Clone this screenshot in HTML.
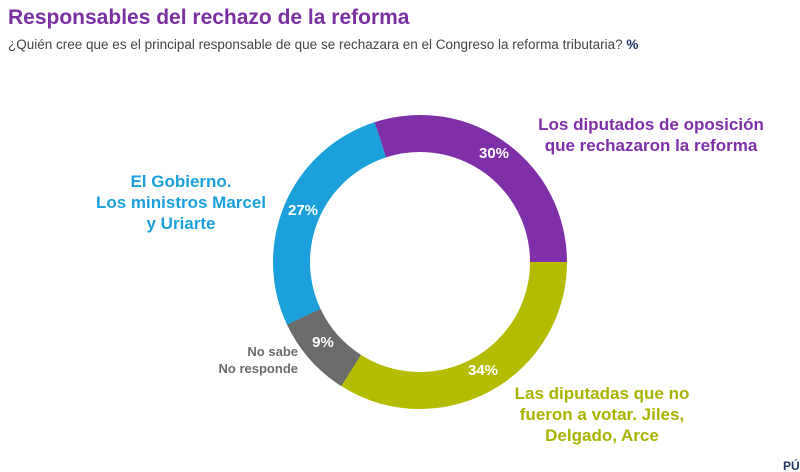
<!DOCTYPE html>
<html><head><meta charset="utf-8"><style>
body{margin:0;background:#fff;}
svg{display:block;font-family:"Liberation Sans",sans-serif;}
</style></head><body>
<svg width="800" height="472" viewBox="0 0 800 472">
<text x="8" y="24" font-size="21" font-weight="bold" fill="#7b2fa3">Responsables del rechazo de la reforma</text>
<text x="8" y="49" font-size="13.5" fill="#444">¿Quién cree que es el principal responsable de que se rechazara en el Congreso la reforma tributaria? <tspan font-weight="bold" fill="#1f3864">%</tspan></text>
<g fill="none" stroke-width="37">
<circle cx="420" cy="262" r="128.5" stroke="#7f2fa8" stroke-dasharray="242.2 1000" transform="rotate(-108 420 262)"/>
<circle cx="420" cy="262" r="128.5" stroke="#b4bc00" stroke-dasharray="274.5 1000" transform="rotate(0 420 262)"/>
<circle cx="420" cy="262" r="128.5" stroke="#6b6b6b" stroke-dasharray="72.7 1000" transform="rotate(122.4 420 262)"/>
<circle cx="420" cy="262" r="128.5" stroke="#1ba0dc" stroke-dasharray="218 1000" transform="rotate(154.8 420 262)"/>
</g>
<g stroke="#fff" stroke-width="2">
<line x1="420" y1="262" x2="375" y2="112" opacity="0"/>
</g>
<g font-size="15" font-weight="bold" fill="#fff" text-anchor="middle">
<text x="494" y="158">30%</text>
<text x="303" y="215">27%</text>
<text x="323" y="347">9%</text>
<text x="483" y="375">34%</text>
</g>
<g font-size="17" font-weight="bold" fill="#7f2fa8" text-anchor="middle">
<text x="651" y="130">Los diputados de oposición</text>
<text x="651" y="151">que rechazaron la reforma</text>
</g>
<g font-size="17" font-weight="bold" fill="#1ba0dc" text-anchor="middle">
<text x="181" y="187">El Gobierno.</text>
<text x="181" y="208">Los ministros Marcel</text>
<text x="181" y="229">y Uriarte</text>
</g>
<g font-size="17" font-weight="bold" fill="#a9b400" text-anchor="middle">
<text x="602" y="399">Las diputadas que no</text>
<text x="602" y="420">fueron a votar. Jiles,</text>
<text x="602" y="441">Delgado, Arce</text>
</g>
<g font-size="13" font-weight="bold" fill="#6b6b6b" text-anchor="end">
<text x="298" y="356">No sabe</text>
<text x="298" y="373">No responde</text>
</g>
<text x="783" y="470" font-size="12" font-weight="bold" fill="#1f3864">PÚ</text>
</svg>
</body></html>
